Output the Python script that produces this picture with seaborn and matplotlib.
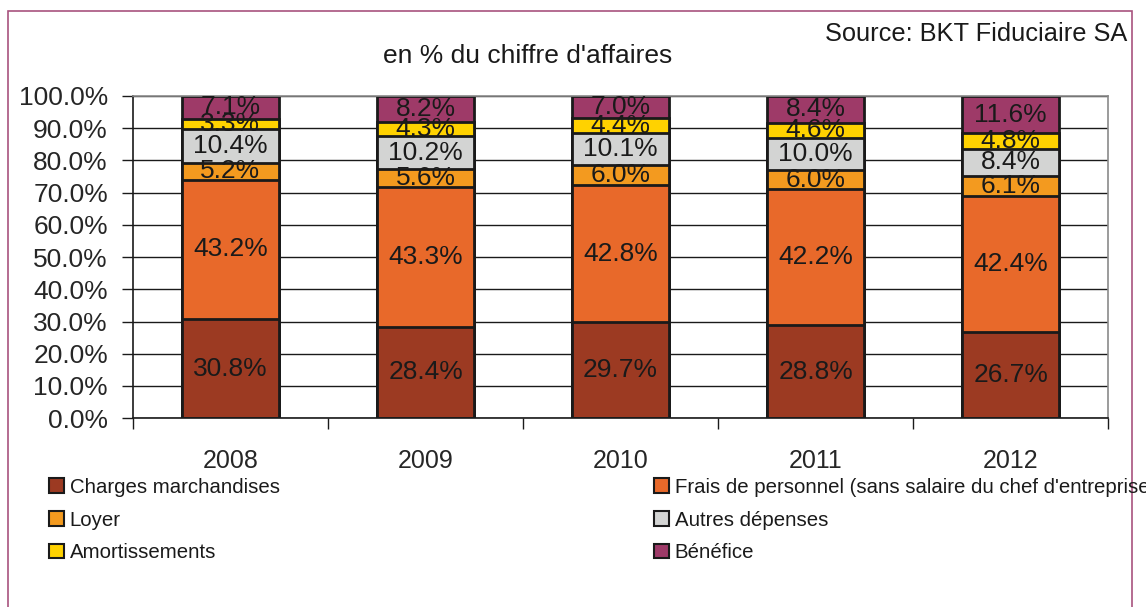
import numpy as np
import pandas as pd
import matplotlib
matplotlib.use("Agg")
import matplotlib.pyplot as plt
from matplotlib.patches import Patch, Rectangle
import seaborn as sns

# ==========================
# DATA
# ==========================

years = ["2008", "2009", "2010", "2011", "2012"]

series_names = [
    "Charges marchandises",
    "Frais de personnel (sans salaire du chef d'entreprise)",
    "Loyer",
    "Autres dépenses",
    "Amortissements",
    "Bénéfice",
]

charges = [30.8, 28.4, 29.7, 28.8, 26.7]
frais = [43.2, 43.3, 42.8, 42.2, 42.4]
loyer = [5.2, 5.6, 6.0, 6.0, 6.1]
autres = [10.4, 10.2, 10.1, 10.0, 8.4]
amort = [3.3, 4.3, 4.4, 4.6, 4.8]
benefice = [7.1, 8.2, 7.0, 8.4, 11.6]

colors = ["#9C3A22", "#E8692A", "#F39A1F", "#D3D4D3", "#FFD200", "#9E3A68"]

# ==========================
# STYLE
# ==========================

sns.set_theme(style="white")
plt.rcParams["font.family"] = ["Liberation Sans", "DejaVu Sans"]
plt.rcParams["text.color"] = "#1a1a1a"

fig = plt.figure(figsize=(11.46, 6.07), dpi=100)
ax = fig.add_axes([0.116, 0.311, 0.851, 0.531])

values = [charges, frais, loyer, autres, amort, benefice]

df = pd.DataFrame({"Year": years})
for name, vals in zip(series_names, values):
    df[name] = vals

cum = df[series_names].cumsum(axis=1)

# draw cumulative tops from the highest layer down
for i in range(len(series_names) - 1, -1, -1):
    sns.barplot(
        x=df["Year"],
        y=cum[series_names[i]],
        color=colors[i],
        saturation=1,
        width=0.5,
        edgecolor="#1a1a1a",
        linewidth=2,
        ax=ax,
    )

# segment labels
for i, name in enumerate(series_names):
    for j in range(len(years)):
        v = df[name][j]
        top = cum[name][j]
        ax.text(
            j,
            top - v / 2,
            f"{v:.1f}%",
            ha="center",
            va="center",
            fontsize=19,
            color="#1a1a1a",
            zorder=5,
        )

# ==========================
# AXES
# ==========================

ax.set_ylim(0, 100)
ax.set_xlim(-0.5, 4.5)
ax.set_yticks(np.arange(0, 101, 10))
ax.set_yticklabels([f"{t:.1f}%" for t in range(0, 101, 10)], fontsize=19)
ax.tick_params(axis="y", length=8, width=1, color="#1a1a1a", direction="out", left=True, pad=10)
ax.tick_params(axis="x", length=0, labelsize=18, pad=22)
ax.set_xticks(np.arange(-0.5, 4.6, 1), minor=True)
ax.tick_params(axis="x", which="minor", length=8, width=1, color="#1a1a1a", direction="out", bottom=True)
ax.set_xlabel("")
ax.set_ylabel("")

ax.yaxis.grid(True, color="#1a1a1a", linewidth=1)
ax.set_axisbelow(True)

for s in ["left", "bottom"]:
    ax.spines[s].set_color("#1a1a1a")
    ax.spines[s].set_linewidth(1.2)
for s in ["top", "right"]:
    ax.spines[s].set_color("#8a8a8a")
    ax.spines[s].set_linewidth(1.2)

# ==========================
# TEXT
# ==========================

fig.text(0.46, 0.907, "en % du chiffre d'affaires", ha="center", va="center", fontsize=19)
fig.text(0.984, 0.944, "Source: BKT Fiduciaire SA", ha="right", va="center", fontsize=18.3)

# ==========================
# LEGEND
# ==========================

handles = [
    Patch(facecolor=c, edgecolor="#1a1a1a", linewidth=1.5, label=n)
    for c, n in zip(colors, series_names)
]

legend_kw = dict(
    loc="upper left",
    frameon=False,
    fontsize=14.7,
    handlelength=0.7,
    handleheight=0.7,
    handletextpad=0.3,
    labelspacing=0.68,
    borderaxespad=0,
    borderpad=0,
)

fig.legend(
    handles=[handles[0], handles[2], handles[4]],
    bbox_to_anchor=(0.043, 0.213),
    **legend_kw,
)
fig.legend(
    handles=[handles[1], handles[3], handles[5]],
    bbox_to_anchor=(0.571, 0.213),
    **legend_kw,
)

# outer frame
fig.patches.append(
    Rectangle(
        (0.007, -0.05),
        0.981,
        1.032,
        transform=fig.transFigure,
        fill=False,
        edgecolor="#A8537E",
        linewidth=1.2,
    )
)

fig.savefig("out.png", dpi=100)
plt.close(fig)
